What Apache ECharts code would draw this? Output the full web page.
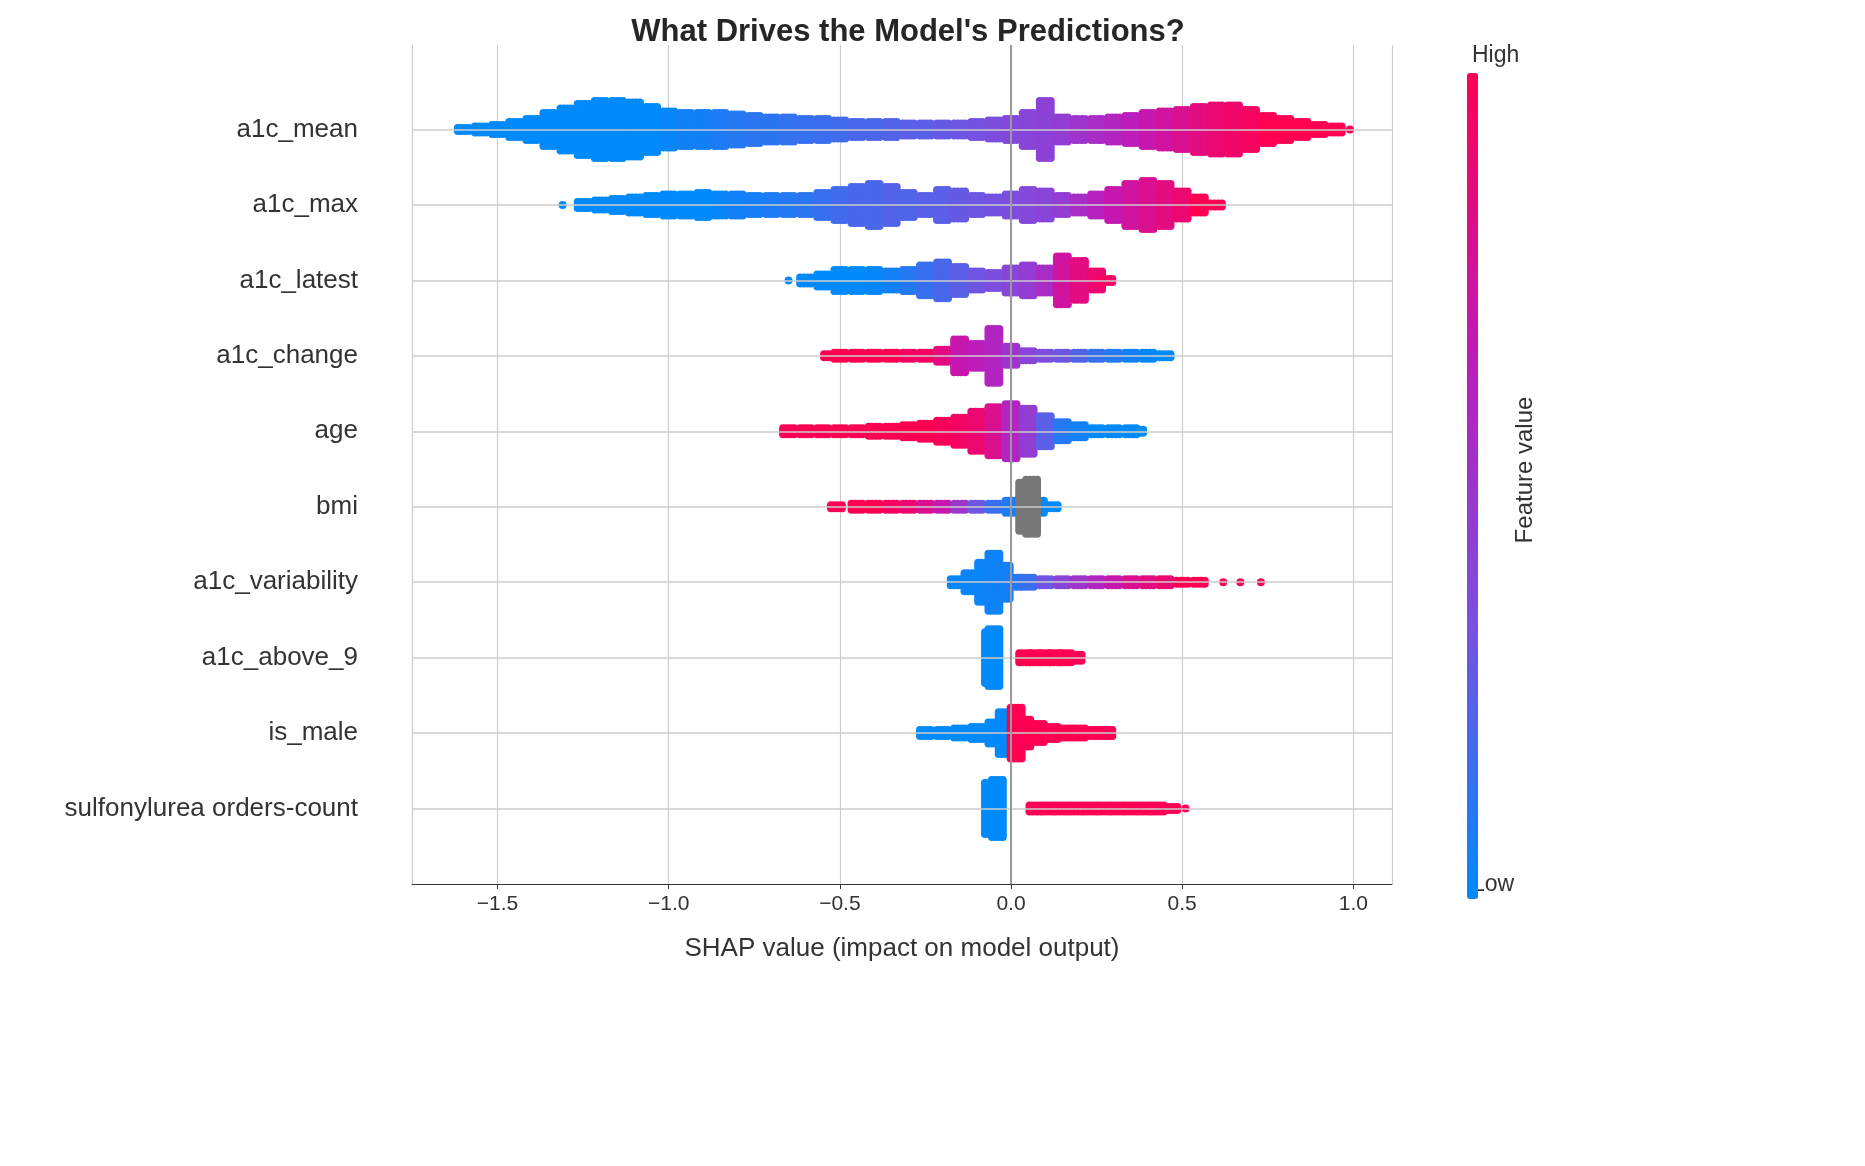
<!DOCTYPE html>
<html><head><meta charset="utf-8">
<script src="https://cdn.jsdelivr.net/npm/echarts@6/dist/echarts.min.js"></script>
<style>html,body{margin:0;padding:0;background:#fff}#c{width:1865px;height:1166px}</style>
</head><body><div id="c"></div>
<script>
// Feature names, bottom (row 0) to top (row 9)
const rowNames = ["sulfonylurea orders-count","is_male","a1c_above_9","a1c_variability","bmi","age","a1c_change","a1c_latest","a1c_max","a1c_mean"];

// Each row: [SHAP value, swarm thickness (stacked dots) in that column, feature value 0..1]
const a1c_mean = [[-1.60,2,0],[-1.55,3,0],[-1.50,4,0],[-1.45,6,0],[-1.40,8,0],[-1.35,12,0],[-1.30,15,0],[-1.25,18,0],[-1.20,20,0],[-1.15,20,0],[-1.10,19,0],[-1.05,16,0],[-1.00,13,0.02],[-0.95,12,0.05],[-0.90,12,0.05],[-0.85,12,0.08],[-0.80,11,0.1],[-0.75,10,0.12],[-0.70,9,0.12],[-0.65,9,0.14],[-0.60,8,0.15],[-0.55,8,0.16],[-0.50,7,0.18],[-0.45,6,0.2],[-0.40,6,0.2],[-0.35,6,0.22],[-0.30,5,0.25],[-0.25,5,0.25],[-0.20,5,0.28],[-0.15,5,0.3],[-0.10,6,0.32],[-0.05,7,0.35],[0.00,8,0.38],[0.05,12,0.4],[0.10,20,0.42],[0.15,9,0.45],[0.20,8,0.5],[0.25,8,0.55],[0.30,9,0.6],[0.35,10,0.65],[0.40,12,0.7],[0.45,13,0.75],[0.50,14,0.8],[0.55,16,0.85],[0.60,17,0.9],[0.65,17,0.92],[0.70,14,0.95],[0.75,10,1],[0.80,8,1],[0.85,6,1],[0.90,4,1],[0.95,3,1],[0.99,1,1]];
const a1c_max = [[-1.31,1,0],[-1.25,3,0],[-1.20,4,0],[-1.15,5,0],[-1.10,6,0],[-1.05,7,0],[-1.00,8,0],[-0.95,8,0],[-0.90,9,0],[-0.85,8,0.02],[-0.80,8,0.05],[-0.75,7,0.06],[-0.70,7,0.08],[-0.65,7,0.1],[-0.60,7,0.12],[-0.55,9,0.15],[-0.50,11,0.18],[-0.45,13,0.2],[-0.40,15,0.2],[-0.35,13,0.22],[-0.30,9,0.22],[-0.25,7,0.24],[-0.20,11,0.25],[-0.15,10,0.28],[-0.10,7,0.3],[-0.05,6,0.32],[0.00,8,0.35],[0.05,11,0.38],[0.10,10,0.4],[0.15,7,0.45],[0.20,6,0.55],[0.25,8,0.62],[0.30,11,0.7],[0.35,15,0.75],[0.40,17,0.8],[0.45,15,0.85],[0.50,10,0.9],[0.55,6,1],[0.60,2,1]];
const a1c_latest = [[-0.65,1,0],[-0.60,3,0],[-0.55,5,0],[-0.50,8,0],[-0.45,8,0],[-0.40,8,0.02],[-0.35,7,0.05],[-0.30,8,0.1],[-0.25,11,0.15],[-0.20,13,0.2],[-0.15,10,0.25],[-0.10,7,0.3],[-0.05,6,0.35],[0.00,9,0.4],[0.05,11,0.45],[0.10,9,0.55],[0.15,17,0.75],[0.20,14,0.85],[0.25,7,0.9],[0.28,2,0.95]];
const a1c_change = [[-0.53,2,1],[-0.50,3,1],[-0.45,3,1],[-0.40,3,1],[-0.35,3,1],[-0.30,3,0.95],[-0.25,3,0.95],[-0.20,5,0.85],[-0.15,12,0.7],[-0.10,9,0.65],[-0.05,19,0.6],[0.00,7,0.5],[0.05,4,0.4],[0.10,3,0.35],[0.15,3,0.3],[0.20,3,0.22],[0.25,3,0.15],[0.30,3,0.1],[0.35,3,0.05],[0.40,3,0.02],[0.45,2,0]];
const age = [[-0.65,3,1],[-0.60,3,1],[-0.55,3,1],[-0.50,3,1],[-0.45,3,1],[-0.40,4,1],[-0.35,4,1],[-0.30,5,1],[-0.25,6,1],[-0.20,8,0.98],[-0.15,10,0.95],[-0.10,14,0.9],[-0.05,17,0.8],[0.00,19,0.6],[0.05,16,0.45],[0.10,11,0.25],[0.15,7,0.1],[0.20,5,0.05],[0.25,3,0],[0.30,3,0],[0.35,3,0],[0.37,2,0]];
const bmi = [[-0.51,2,1],[-0.45,3,1],[-0.40,3,1],[-0.35,3,0.95],[-0.30,3,0.9],[-0.25,3,0.8],[-0.20,3,0.7],[-0.15,3,0.5],[-0.10,3,0.3],[-0.05,3,0.15],[0.00,5,0.08],[0.04,7,0],[0.08,5,0],[0.12,2,0]];
const bmi_missing = [[0.04,17],[0.06,19]];
const a1c_variability = [[-0.16,3,0.02],[-0.12,7,0.03],[-0.08,14,0.03],[-0.05,20,0.04],[-0.02,12,0.05],[0.01,4,0.1],[0.05,4,0.15],[0.10,3,0.3],[0.15,3,0.4],[0.20,3,0.5],[0.25,3,0.6],[0.30,3,0.7],[0.35,3,0.8],[0.40,3,0.85],[0.45,3,0.9],[0.50,2,1],[0.55,2,1],[0.62,1,1],[0.67,1,1],[0.73,1,1]];
const a1c_above_9 = [[-0.06,18,0],[-0.05,20,0],[0.04,4,1],[0.07,4,1],[0.10,4,1],[0.13,4,1],[0.16,4,1],[0.19,3,1]];
const is_male = [[-0.25,3,0],[-0.20,3,0],[-0.15,4,0],[-0.10,5,0],[-0.05,8,0],[-0.02,15,0],[0.015,18,1],[0.04,10,1],[0.08,7,1],[0.12,5,1],[0.16,4,1],[0.20,4,1],[0.24,3,1],[0.28,3,1]];
const sulfonylurea = [[-0.06,18,0],[-0.04,20,0],[0.07,3,1],[0.11,3,1],[0.15,3,1],[0.19,3,1],[0.23,3,1],[0.27,3,1],[0.31,3,1],[0.35,3,1],[0.39,3,1],[0.43,3,1],[0.47,2,1],[0.51,1,1]];
const rowsData = [sulfonylurea,is_male,a1c_above_9,a1c_variability,bmi,age,a1c_change,a1c_latest,a1c_max,a1c_mean];

const PX_PER_Y = 75.6, DOT_GAP = 3;
const X_OFFS = [-0.016, -0.0055, 0.0055, 0.016];
function swarm(row, rowIdx, fixedF) {
  const out = [];
  row.forEach(c => {
    const n = c[1];
    for (let k = 0; k < n; k++) {
      const dy = (k - (n - 1) / 2) * DOT_GAP / PX_PER_Y;
      const offs = n <= 1 ? [0] : X_OFFS;
      offs.forEach(dx => out.push([c[0] + dx, rowIdx + dy, fixedF === undefined ? c[2] : fixedF]));
    }
  });
  return out;
}
let pts = [];
rowsData.forEach((r, i) => { pts = pts.concat(swarm(r, i)); });
const greyPts = swarm(bmi_missing, 4, 0);

const chart = echarts.init(document.getElementById('c'));
const fmt = v => (v < 0 ? '\u2212' : '') + Math.abs(v).toFixed(1);
const FF = 'Liberation Sans, Arial';
chart.setOption({
  animation: false,
  title: { text: "What Drives the Model's Predictions?", left: 903, top: 12, textAlign: 'center',
    textStyle: { fontFamily: FF, fontSize: 31, fontWeight: 'bold', color: '#262626' } },
  grid: { left: 412, right: 1865 - 1392, top: 45, bottom: 1166 - 884 },
  xAxis: { type: 'value', min: -1.75, max: 1.113, splitNumber: 6,
    axisLine: { show: true, onZero: false, lineStyle: { color: '#333', width: 1 } },
    axisTick: { show: true, length: 5, lineStyle: { color: '#333' } },
    axisLabel: { showMinLabel: false, showMaxLabel: false, formatter: fmt, fontSize: 21, color: '#333', margin: 10, fontFamily: FF },
    splitLine: { show: true, lineStyle: { color: '#cccccc', width: 1.2 } },
    name: 'SHAP value (impact on model output)', nameLocation: 'middle', nameGap: 52,
    nameTextStyle: { fontSize: 26, color: '#333', fontFamily: FF } },
  yAxis: { type: 'value', min: -1, max: 10.12, interval: 1,
    axisLine: { show: false }, axisTick: { show: false }, splitLine: { show: false },
    axisLabel: { showMinLabel: false, showMaxLabel: false, margin: 54, fontSize: 26, color: '#333', fontFamily: FF,
      formatter: v => { const i = Math.round(v); return (Math.abs(v - i) < 0.01 && i >= 0 && i < rowNames.length) ? rowNames[i] : ''; } } },
  visualMap: { type: 'continuous', seriesIndex: 1, dimension: 2, min: 0, max: 1, show: true, calculable: false,
    left: 1452, top: 58, itemWidth: 11, itemHeight: 826, text: null, showLabel: false,
    inRange: { color: ['#008afb', '#7a50e0', '#c01ab8', '#ff0052'] } },
  graphic: [
    { type: 'text', left: 1472, top: 44, style: { text: 'High', fontSize: 23, fill: '#333', fontFamily: FF } },
    { type: 'text', left: 1472, top: 873, style: { text: 'Low', fontSize: 23, fill: '#333', fontFamily: FF } },
    { type: 'text', x: 1525, y: 470, rotation: Math.PI / 2, style: { text: 'Feature value', fontSize: 24, fill: '#333', align: 'center', verticalAlign: 'middle', fontFamily: FF } }
  ],
  series: [
    { type: 'line', data: [], silent: true,
      markLine: { silent: true, symbol: 'none', label: { show: false },
        data: rowNames.map((n, i) => ({ yAxis: i, lineStyle: { color: '#cccccc', width: 1.5, type: 'solid' } }))
          .concat([{ xAxis: 0, lineStyle: { color: '#999', width: 2, type: 'solid' } }]) } },
    { type: 'scatter', data: pts, symbolSize: 8, itemStyle: { opacity: 1 }, z: 3, silent: true, large: false },
    { type: 'scatter', data: greyPts, symbolSize: 8, itemStyle: { color: '#777777', opacity: 1 }, z: 4, silent: true }
  ]
});
</script></body></html>
